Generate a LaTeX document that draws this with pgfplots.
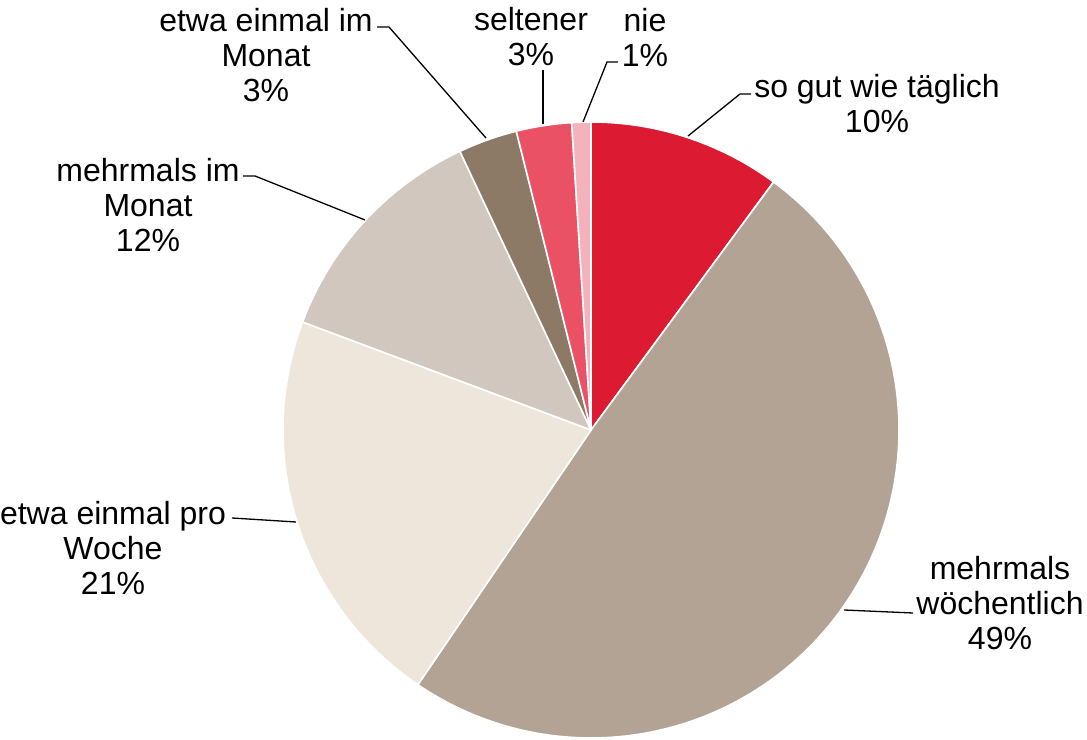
\documentclass[border=0pt]{standalone}
\usepackage{fontspec}
\setmainfont{Liberation Sans}
\usepackage{pgfplots}
\pgfplotsset{compat=1.18}
\definecolor{cA}{RGB}{220,26,49}
\definecolor{cB}{RGB}{179,163,148}
\definecolor{cC}{RGB}{239,230,219}
\definecolor{cD}{RGB}{209,199,190}
\definecolor{cE}{RGB}{140,122,102}
\definecolor{cF}{RGB}{235,81,101}
\definecolor{cG}{RGB}{244,179,188}
\tikzset{lbl/.style={font=\fontsize{16bp}{17.5bp}\selectfont, align=center, inner sep=0pt, text=black}}
% slice: cumulative start %, cumulative end %, colour
\newcommand{\slice}[3]{%
  \addplot[fill=#3, draw=white, line width=0.8bp, line join=round,
    domain=90-3.6*#2:90-3.6*#1, samples=150, variable=\t]
    ({591+308*cos(\t)},{430-308*sin(\t)}) -- (591,430) -- cycle;}
\begin{document}
\begin{tikzpicture}
\begin{axis}[
  width=543.5bp, height=370bp, scale only axis,
  xmin=0, xmax=1087, ymin=0, ymax=740, y dir=reverse,
  hide axis, clip=false,
]
% values: 10.1, 49.4, 21.2, 12.3, 3.1, 2.9, 1.0 (percent of circle)
\slice{0}{10.1}{cA}
\slice{10.1}{59.5}{cB}
\slice{59.5}{80.7}{cC}
\slice{80.7}{93.0}{cD}
\slice{93.0}{96.1}{cE}
\slice{96.1}{99.0}{cF}
\slice{99.0}{100}{cG}
% leader lines
\draw[black, line width=0.65bp] (751,94) -- (740,94) -- (688,136);
\draw[black, line width=0.65bp] (844,610) -- (913,613);
\draw[black, line width=0.65bp] (232,518) -- (296,522);
\draw[black, line width=0.65bp] (243,176) -- (255,176) -- (365,220);
\draw[black, line width=0.65bp] (377,27) -- (389,27) -- (486,138);
\draw[black, line width=0.65bp] (543,70) -- (543,124);
\draw[black, line width=0.65bp] (618,62) -- (607,62) -- (583,122);
% labels
\node[lbl] at (877,104) {so gut wie täglich\\10\%};
\node[lbl] at (1000,603) {mehrmals\\wöchentlich\\49\%};
\node[lbl] at (113,548) {etwa einmal pro\\Woche\\21\%};
\node[lbl] at (148,205) {mehrmals im\\Monat\\12\%};
\node[lbl] at (266,55) {etwa einmal im\\Monat\\3\%};
\node[lbl] at (531,37) {seltener\\3\%};
\node[lbl] at (645,37) {nie\\1\%};
\end{axis}
\pgfresetboundingbox
\path[use as bounding box] (current axis.south west) rectangle (current axis.north east);
\end{tikzpicture}
\end{document}
